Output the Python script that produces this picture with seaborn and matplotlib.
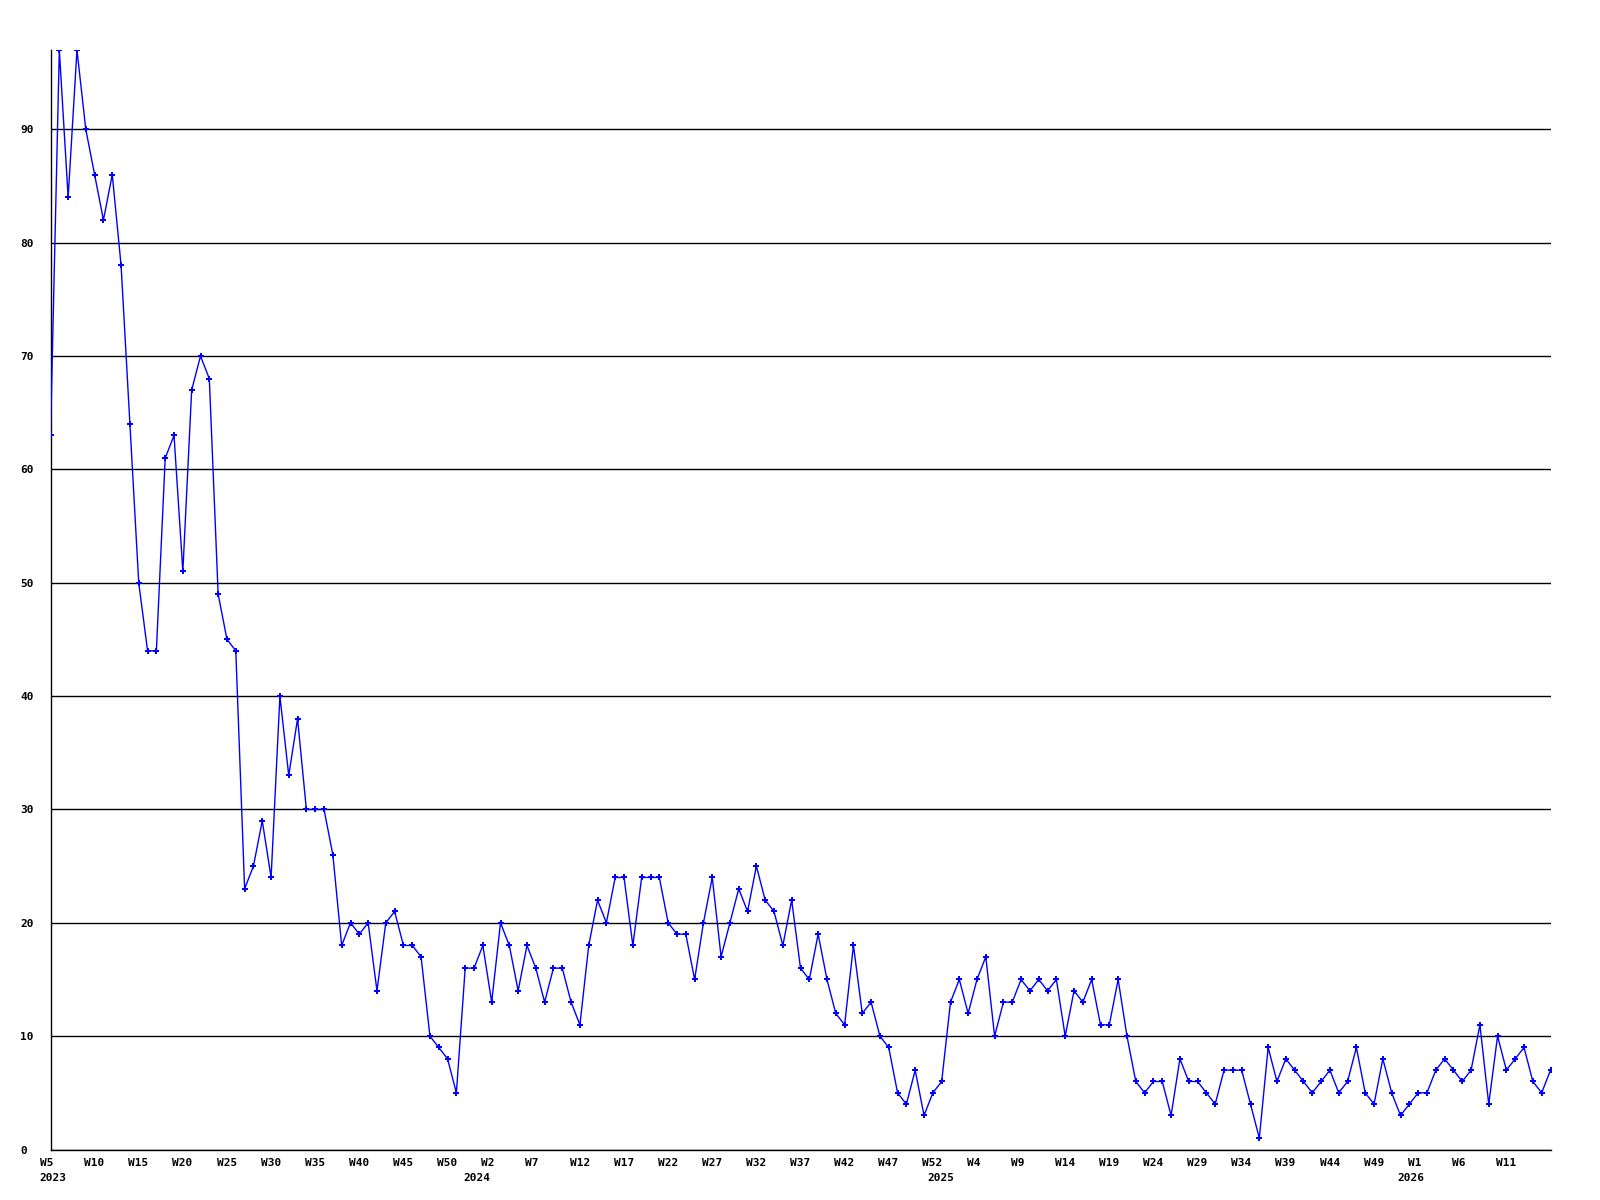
import matplotlib
matplotlib.use("Agg")
import matplotlib.pyplot as plt
import matplotlib.transforms as mtransforms
import seaborn as sns
import pandas as pd

# --- data: weekly counts ---
counts = [
    63, 97, 84, 97, 90, 86, 82, 86, 78, 64,
    50, 44, 44, 61, 63, 51, 67, 70, 68, 49,
    45, 44, 23, 25, 29, 24, 40, 33, 38, 30,
    30, 30, 26, 18, 20, 19, 20, 14, 20, 21,
    18, 18, 17, 10, 9, 8, 5, 16, 16, 18,
    13, 20, 18, 14, 18, 16, 13, 16, 16, 13,
    11, 18, 22, 20, 24, 24, 18, 24, 24, 24,
    20, 19, 19, 15, 20, 24, 17, 20, 23, 21,
    25, 22, 21, 18, 22, 16, 15, 19, 15, 12,
    11, 18, 12, 13, 10, 9, 5, 4, 7, 3,
    5, 6, 13, 15, 12, 15, 17, 10, 13, 13,
    15, 14, 15, 14, 15, 10, 14, 13, 15, 11,
    11, 15, 10, 6, 5, 6, 6, 3, 8, 6,
    6, 5, 4, 7, 7, 7, 4, 1, 9, 6,
    8, 7, 6, 5, 6, 7, 5, 6, 9, 5,
    4, 8, 5, 3, 4, 5, 5, 7, 8, 7,
    6, 7, 11, 4, 10, 7, 8, 9, 6, 5,
    7,
]

# week numbers per year as they appear on the axis
years = ["2023", "2024", "2025", "2026"]
weeks_per_year = [list(range(5, 54)), list(range(1, 54)), list(range(1, 54)), list(range(1, 17))]
year_label_pos = [0.3, 48.3, 100.9, 154.2]

week_labels = []
for wk in weeks_per_year:
    week_labels += [f"W{w}" for w in wk]

df = pd.DataFrame({"idx": range(len(counts)), "count": counts, "week": week_labels})

# --- style ---
sns.set_style("white")
plt.rcParams["font.family"] = ["DejaVu Sans Mono"]
plt.rcParams["font.weight"] = "bold"
plt.rcParams["text.color"] = "black"
plt.rcParams["xtick.color"] = "black"
plt.rcParams["ytick.color"] = "black"

fig = plt.figure(figsize=(16, 12), dpi=100)
ax = fig.add_axes([50.5 / 1600, 1 - 1149.5 / 1200, 1500 / 1600, 1099.5 / 1200])

sns.lineplot(data=df, x="idx", y="count", color="#0000ff", linewidth=1,
             marker="P", markersize=4.5, markeredgewidth=0, ax=ax, zorder=3)

ax.set_xlim(0, len(counts) - 1)
ax.set_ylim(0, 97)
ax.set_xlabel("")
ax.set_ylabel("")

# grid + spines
ax.set_yticks(range(0, 91, 10))
ax.yaxis.grid(True, color="black", linewidth=1)
ax.xaxis.grid(False)
for side in ["top", "right"]:
    ax.spines[side].set_visible(False)
for side in ["left", "bottom"]:
    ax.spines[side].set_color("black")
    ax.spines[side].set_linewidth(1)
ax.set_axisbelow(True)

# x ticks every 5 weeks
tick_idx = list(range(0, len(counts) - 1, 5))
ax.set_xticks(tick_idx)
ax.set_xticklabels([week_labels[i] for i in tick_idx], fontsize=8, fontweight="bold", ha="left")
ax.tick_params(axis="x", length=0, pad=6.1, labelcolor="black")
ax.tick_params(axis="y", length=0, pad=21.6, labelsize=8, labelcolor="black")
for lab in ax.get_yticklabels():
    lab.set_ha("left")
    lab.set_fontweight("bold")

shift = mtransforms.ScaledTranslation(-10.4 / 100, 0, fig.dpi_scale_trans)
for lab in ax.get_xticklabels():
    lab.set_transform(lab.get_transform() + shift)

# year labels under the first week of each year
for yr, pos in zip(years, year_label_pos):
    ax.annotate(yr, xy=(pos, 0), xycoords=("data", "axes fraction"),
                xytext=(0, -16.6), textcoords="offset points",
                ha="center", va="top", fontsize=8, fontweight="bold", color="black")

fig.savefig("out.png", dpi=100)
